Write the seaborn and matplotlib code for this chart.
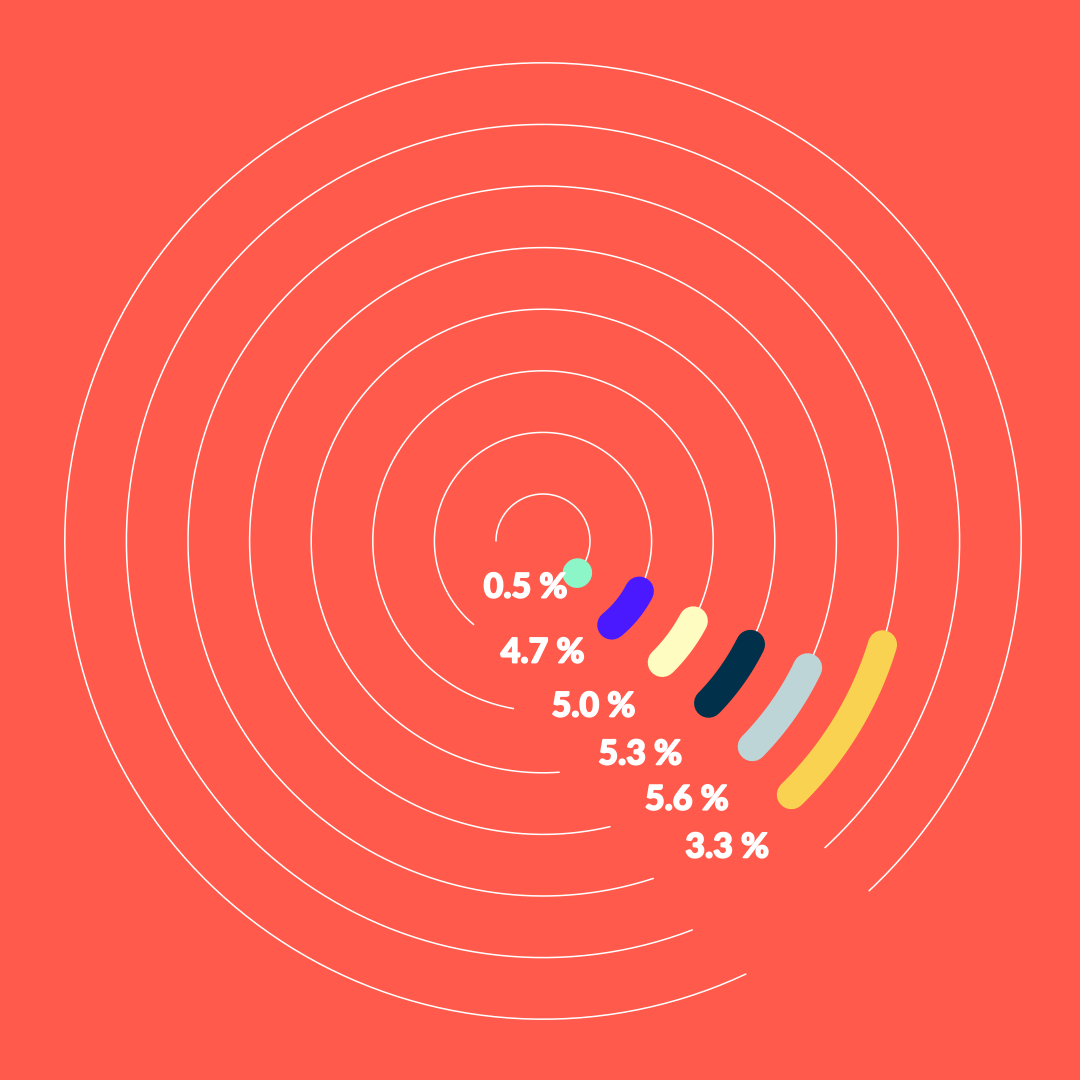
import numpy as np
import pandas as pd
import seaborn as sns
import matplotlib.pyplot as plt
import matplotlib.patheffects as pe

# values shown on the rings (inner -> outer)
values = [0.5, 4.7, 5.0, 5.3, 5.6, 3.3]
bar_colors = ["#8DF6C9", "#4A19FF", "#FFFCC2", "#00304A", "#BED5D8", "#F8D250"]

# angles in degrees, clockwise from 12 o'clock
bar_start_deg = [132.6, 117.5, 118.0, 116.5, 115.6, 107.0]
bar_end_deg = [133.6, 140.7, 135.5, 134.4, 134.5, 135.6]
track_start_deg = [270.0, 219.7, 190.0, 176.0, 166.8, 161.9, 159.0, 154.9]
track_end_deg = [132.6, 117.5, 118.0, 116.5, 115.6, 107.0, 137.4, 137.0]

bg = "#FF5A4B"
labels = [f"{v:.1f} %" for v in values]

sns.set_theme(style="white")
plt.rcParams['font.family'] = ['Lato', 'DejaVu Sans']

# ring index -> radius (ring 1 is the innermost)
inner_px, gap_px, axes_px = 47, 61.6, 1000
r_origin = 1 - inner_px / gap_px
r_max = r_origin + (axes_px / 2) / gap_px

# white tracks
rows = []
for i, (s, e) in enumerate(zip(track_start_deg, track_end_deg)):
    if e < s:
        e = e + 360
    th = np.radians(np.linspace(s, e, 400))
    for t in th:
        rows.append((i + 1, t, i + 1))
tracks = pd.DataFrame(rows, columns=['ring', 'theta', 'r'])

# coloured bars
rows = []
for i, (s, e) in enumerate(zip(bar_start_deg, bar_end_deg)):
    th = np.radians(np.linspace(s, e, 100))
    for t in th:
        rows.append((labels[i], t, i + 1))
bars = pd.DataFrame(rows, columns=['label', 'theta', 'r'])

fig = plt.figure(figsize=(10.8, 10.8), dpi=100, facecolor=bg)
cx, cy = 543 / 1080, 1 - 541 / 1080
w = axes_px / 1080
ax = fig.add_axes([cx - w / 2, cy - w / 2, w, w], projection='polar')
ax.set_theta_zero_location('N')
ax.set_theta_direction(-1)

sns.lineplot(data=tracks, x='theta', y='r', units='ring', estimator=None, sort=False,
             color='white', lw=1.1, ax=ax)
sns.lineplot(data=bars, x='theta', y='r', hue='label', hue_order=labels,
             palette=dict(zip(labels, bar_colors)), estimator=None, sort=False,
             lw=21, solid_capstyle='round', legend=False, ax=ax)

# labels sit in the gap between bar end and track start
for i, lab in enumerate(labels):
    mid = (bar_end_deg[i] + track_start_deg[i]) / 2
    ax.text(np.radians(mid), i + 1, lab, color='white', fontsize=24.5,
            fontweight='black', ha='center', va='center_baseline',
            path_effects=[pe.withStroke(linewidth=1.2, foreground='white')])

ax.set_ylim(r_origin, r_max)
ax.set_axis_off()

plt.savefig("out.png", dpi=100, facecolor=bg)
